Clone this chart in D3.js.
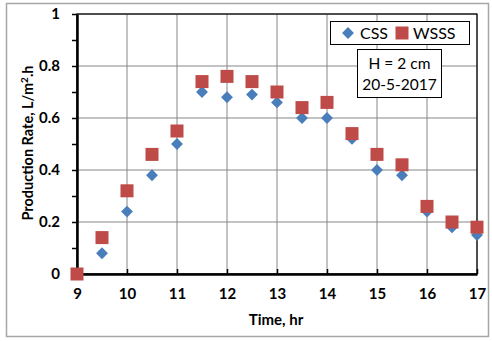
<!DOCTYPE html>
<html>
<head>
<meta charset="utf-8">
<script src="https://cdn.jsdelivr.net/npm/d3@7"></script>
<style>
  body { margin: 0; background: #fff; }
  text { font-family: Lato, "Open Sans", sans-serif; }
</style>
</head>
<body>
<div id="wrapper"></div>
<script>
const hours = [9, 9.5, 10, 10.5, 11, 11.5, 12, 12.5, 13, 13.5, 14, 14.5, 15, 15.5, 16, 16.5, 17]
const css = [0, 0.08, 0.24, 0.38, 0.50, 0.70, 0.68, 0.69, 0.66, 0.60, 0.60, 0.52, 0.40, 0.38, 0.24, 0.18, 0.15]
const wsss = [0, 0.14, 0.32, 0.46, 0.55, 0.74, 0.76, 0.74, 0.70, 0.64, 0.66, 0.54, 0.46, 0.42, 0.26, 0.20, 0.18]
const xTicks = [9, 10, 11, 12, 13, 14, 15, 16, 17]
const yTicks = [0, 0.2, 0.4, 0.6, 0.8, 1]
const yMinor = [0.1, 0.3, 0.5, 0.7, 0.9]

function drawChart() {
    const dimensions = {
        width: 492,
        height: 341,
        margin: { top: 14, right: 15, bottom: 67, left: 77 },
    }
    dimensions.boundedWidth = dimensions.width - dimensions.margin.left - dimensions.margin.right
    dimensions.boundedHeight = dimensions.height - dimensions.margin.top - dimensions.margin.bottom

    const svg = d3.select("#wrapper").append("svg")
        .attr("width", dimensions.width)
        .attr("height", dimensions.height)

    // outer chart frame
    svg.append("rect")
        .attr("x", 6.5).attr("y", 3.5)
        .attr("width", 482).attr("height", 333)
        .attr("fill", "none").attr("stroke", "#a6a6a6").attr("stroke-width", 1.5)

    const bounds = svg.append("g")
        .attr("transform", `translate(${dimensions.margin.left},${dimensions.margin.top})`)

    const xScale = d3.scaleLinear().domain([9, 17]).range([0, dimensions.boundedWidth])
    const yScale = d3.scaleLinear().domain([0, 1]).range([dimensions.boundedHeight, 0])

    // grid
    bounds.append("g").selectAll("line").data(xTicks).join("line")
        .attr("x1", d => xScale(d)).attr("x2", d => xScale(d))
        .attr("y1", 0).attr("y2", dimensions.boundedHeight)
        .attr("stroke", "#868686").attr("stroke-width", 1)
    bounds.append("g").selectAll("line").data(yTicks).join("line")
        .attr("x1", 0).attr("x2", dimensions.boundedWidth)
        .attr("y1", d => yScale(d)).attr("y2", d => yScale(d))
        .attr("stroke", "#868686").attr("stroke-width", 1)

    // plot border
    bounds.append("rect")
        .attr("width", dimensions.boundedWidth).attr("height", dimensions.boundedHeight)
        .attr("fill", "none").attr("stroke", "#000").attr("stroke-width", 1.2)

    // axes
    bounds.append("g")
        .attr("transform", `translate(0,${dimensions.boundedHeight})`)
        .call(d3.axisBottom(xScale).tickValues(xTicks).tickSizeInner(-5).tickSizeOuter(0).tickPadding(14).tickFormat(d3.format("d")))
    bounds.append("g")
        .call(d3.axisLeft(yScale).tickValues(yTicks).tickSizeInner(5).tickSizeOuter(0).tickPadding(12).tickFormat(d => d === 0 || d === 1 ? d : d3.format(".1f")(d)))
    bounds.append("g")
        .call(d3.axisLeft(yScale).tickValues(yMinor).tickSize(5).tickFormat(""))
        .select(".domain").remove()

    bounds.selectAll(".domain").attr("stroke", "#000").attr("stroke-width", 2.5)
    bounds.selectAll(".tick line").attr("stroke", "#000").attr("stroke-width", 1.5)
    bounds.selectAll(".tick text")
        .attr("fill", "#000")
        .style("font-size", "15px").style("font-weight", "bold")
        .style("font-family", "Lato, sans-serif")

    // markers
    const diamond = d3.symbol().type(d3.symbolDiamond2).size(90)
    bounds.append("g").selectAll("path").data(hours).join("path")
        .attr("transform", (d, i) => `translate(${xScale(d)},${yScale(css[i])})`)
        .attr("d", diamond)
        .attr("fill", "#4a7ebb")

    const sq = 13
    bounds.append("g").selectAll("rect").data(hours).join("rect")
        .attr("x", d => xScale(d) - sq / 2)
        .attr("y", (d, i) => yScale(wsss[i]) - sq / 2)
        .attr("width", sq).attr("height", sq)
        .attr("fill", "#be4b48")

    // axis titles
    svg.append("text")
        .attr("x", 276).attr("y", 325)
        .attr("text-anchor", "middle")
        .style("font-size", "15px").style("font-weight", "bold")
        .text("Time, hr")

    const yt = svg.append("text")
        .attr("transform", "translate(33,143) rotate(-90)")
        .attr("text-anchor", "middle")
        .style("font-size", "14.5px").style("font-weight", "bold")
    yt.append("tspan").text("Production Rate, L/m")
    yt.append("tspan").attr("dy", -5).style("font-size", "10px").text("2")
    yt.append("tspan").attr("dy", 5).text(".h")

    // legend
    const legend = svg.append("g")
    legend.append("rect")
        .attr("x", 330.5).attr("y", 21.5).attr("width", 139).attr("height", 23)
        .attr("fill", "#fff").attr("stroke", "#000").attr("stroke-width", 1)
    legend.append("path")
        .attr("transform", "translate(348,33)")
        .attr("d", d3.symbol().type(d3.symbolDiamond2).size(90))
        .attr("fill", "#4a7ebb")
    legend.append("text").attr("x", 360).attr("y", 39)
        .style("font-size", "16px").text("CSS")
    legend.append("rect")
        .attr("x", 402 - sq / 2).attr("y", 33 - sq / 2).attr("width", sq).attr("height", sq)
        .attr("fill", "#be4b48")
    legend.append("text").attr("x", 413).attr("y", 39)
        .style("font-size", "16px").text("WSSS")

    // annotation box
    const note = svg.append("g")
    note.append("rect")
        .attr("x", 357.5).attr("y", 49.5).attr("width", 84).attr("height", 48)
        .attr("fill", "#fff").attr("stroke", "#000").attr("stroke-width", 1)
    note.append("text").attr("x", 399.5).attr("y", 69)
        .attr("text-anchor", "middle").style("font-size", "15.5px").text("H = 2 cm")
    note.append("text").attr("x", 399.5).attr("y", 90)
        .attr("text-anchor", "middle").style("font-size", "15.5px").text("20-5-2017")
}

drawChart()
</script>
</body>
</html>
